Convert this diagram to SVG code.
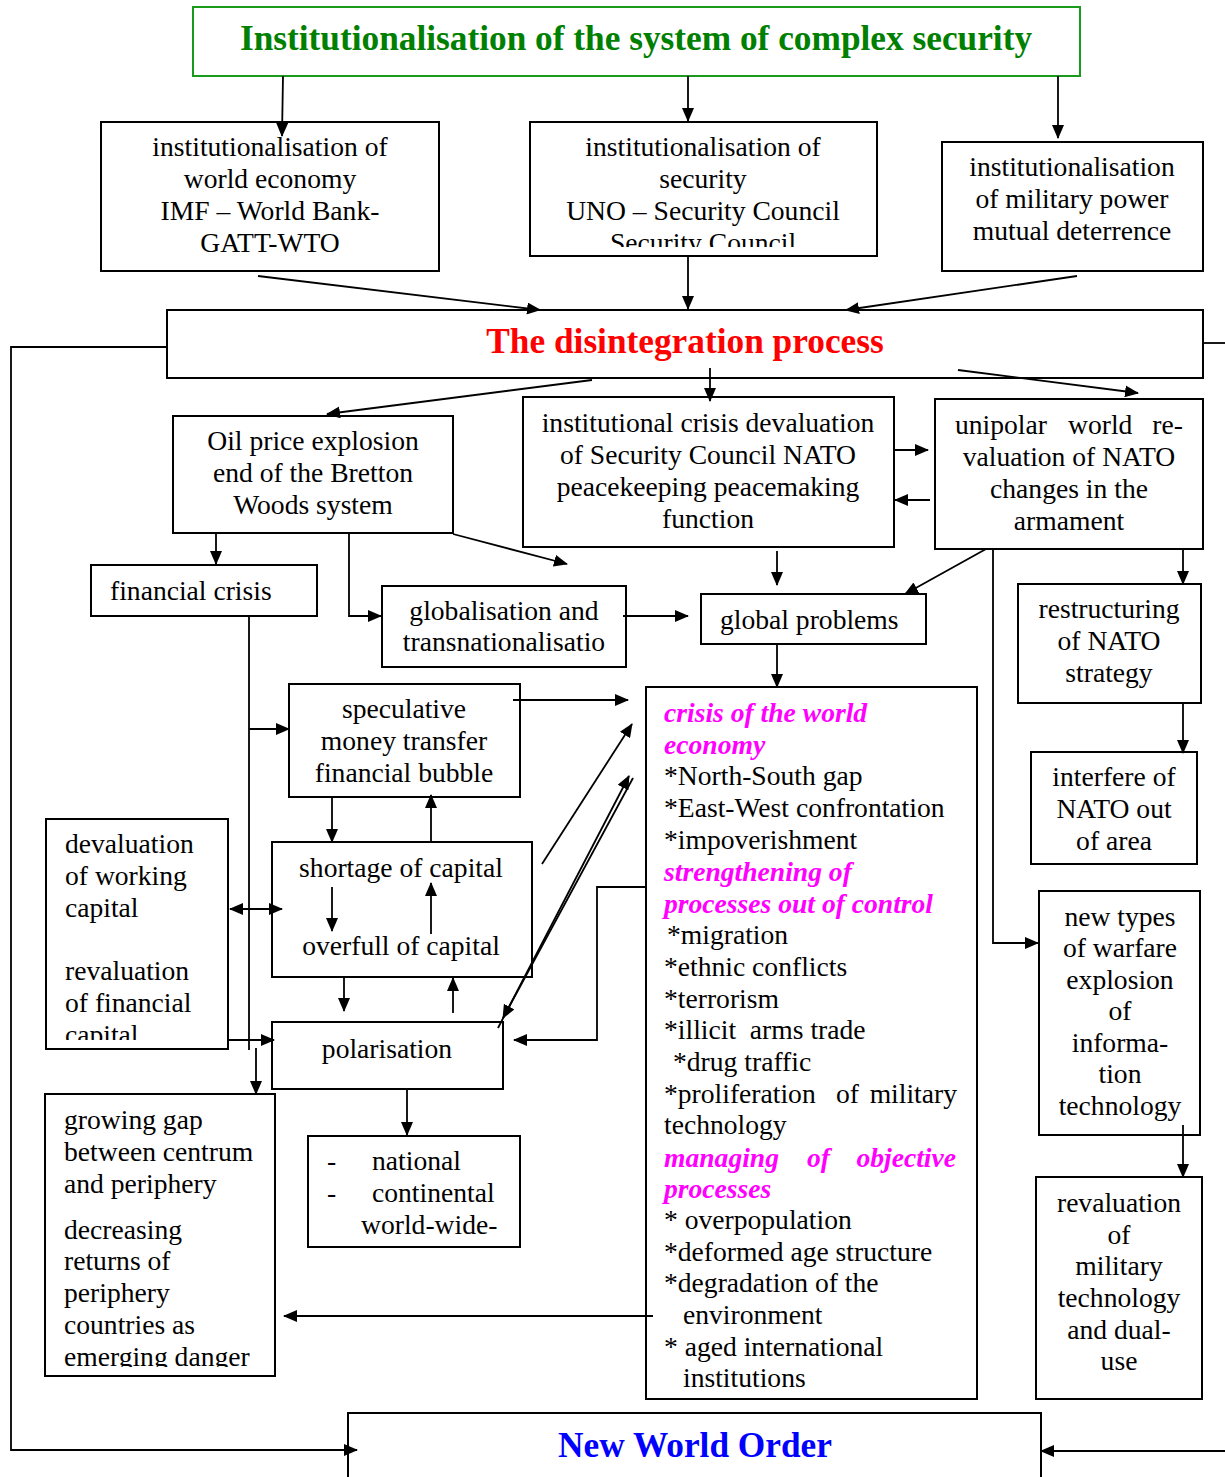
<svg xmlns="http://www.w3.org/2000/svg" width="1225" height="1477" viewBox="0 0 1225 1477">
<style>
.box{fill:#fff;stroke:#000;stroke-width:2}
.t{font-family:"Liberation Serif","Times New Roman",serif;font-size:27.6px;fill:#000}
.c{text-anchor:middle}
.e{text-anchor:end}
.mg{fill:#ff00ff;font-weight:bold;font-style:italic}
.big{font-family:"Liberation Serif","Times New Roman",serif;font-size:35.3px;font-weight:bold;text-anchor:middle}
#connectors path{stroke:#000;stroke-width:1.8;fill:none}
.a{marker-end:url(#ah)}
.d{marker-end:url(#ah);marker-start:url(#ahs)}
</style>
<defs>
<marker id="ah" markerWidth="14" markerHeight="12" refX="13" refY="6" orient="auto" markerUnits="userSpaceOnUse"><path d="M0,0 L14,6 L0,12 z" fill="#000"/></marker>
<marker id="ahs" markerWidth="14" markerHeight="12" refX="13" refY="6" orient="auto-start-reverse" markerUnits="userSpaceOnUse"><path d="M0,0 L14,6 L0,12 z" fill="#000"/></marker>
<clipPath id="clipB"><rect x="530" y="122" width="347" height="125"/></clipPath>
<clipPath id="clipDev"><rect x="46" y="819" width="182" height="221"/></clipPath>
<clipPath id="clipGap"><rect x="45" y="1094" width="230" height="273"/></clipPath>
</defs>
<rect width="1225" height="1477" fill="#fff"/>

<g id="title">
<rect x="193" y="7" width="887" height="69" fill="#fff" stroke="#1a9a1a" stroke-width="2"/>
<text class="big" x="636" y="50" fill="#008000">Institutionalisation of the system of complex security</text>
</g>

<g id="world-economy">
<rect class="box" x="101" y="122" width="338" height="149"/>
<text class="t c" x="270" y="156">institutionalisation of</text>
<text class="t c" x="270" y="188">world economy</text>
<text class="t c" x="270" y="220">IMF – World Bank-</text>
<text class="t c" x="270" y="252">GATT-WTO</text>
</g>

<g id="security">
<rect class="box" x="530" y="122" width="347" height="134"/>
<text class="t c" x="703" y="156">institutionalisation of</text>
<text class="t c" x="703" y="188">security</text>
<text class="t c" x="703" y="220">UNO – Security Council</text>
<text class="t c" x="703" y="252" clip-path="url(#clipB)">Security Council</text>
</g>

<g id="military-power">
<rect class="box" x="942" y="142" width="261" height="129"/>
<text class="t c" x="1072" y="176">institutionalisation</text>
<text class="t c" x="1072" y="208">of military power</text>
<text class="t c" x="1072" y="240">mutual deterrence</text>
</g>

<g id="disintegration">
<rect class="box" x="167" y="310" width="1036" height="68"/>
<text class="big" x="685" y="353" fill="#ff0000">The disintegration process</text>
</g>

<g id="oil-price">
<rect class="box" x="173" y="416" width="280" height="117"/>
<text class="t c" x="313" y="450">Oil price explosion</text>
<text class="t c" x="313" y="482">end of the Bretton</text>
<text class="t c" x="313" y="514">Woods system</text>
</g>

<g id="institutional-crisis">
<rect class="box" x="523" y="397" width="371" height="150"/>
<text class="t c" x="708" y="432">institutional crisis devaluation</text>
<text class="t c" x="708" y="464">of Security Council NATO</text>
<text class="t c" x="708" y="496">peacekeeping peacemaking</text>
<text class="t c" x="708" y="528">function</text>
</g>

<g id="unipolar">
<rect class="box" x="935" y="399" width="268" height="150"/>
<text class="t" x="955" y="434">unipolar</text>
<text class="t" x="1068" y="434">world</text>
<text class="t e" x="1183" y="434">re-</text>
<text class="t c" x="1069" y="466">valuation of NATO</text>
<text class="t c" x="1069" y="498">changes in the</text>
<text class="t c" x="1069" y="530">armament</text>
</g>

<g id="financial-crisis">
<rect class="box" x="91" y="565" width="226" height="51"/>
<text class="t" x="110" y="600">financial crisis</text>
</g>

<g id="globalisation">
<rect class="box" x="382" y="586" width="244" height="81"/>
<text class="t c" x="504" y="620">globalisation and</text>
<text class="t c" x="504" y="651">transnationalisatio</text>
</g>

<g id="global-problems">
<rect class="box" x="701" y="594" width="225" height="50"/>
<text class="t" x="720" y="629">global problems</text>
</g>

<g id="restructuring">
<rect class="box" x="1018" y="584" width="183" height="119"/>
<text class="t c" x="1109" y="618">restructuring</text>
<text class="t c" x="1109" y="650">of NATO</text>
<text class="t c" x="1109" y="682">strategy</text>
</g>

<g id="interfere">
<rect class="box" x="1031" y="752" width="166" height="112"/>
<text class="t c" x="1114" y="786">interfere of</text>
<text class="t c" x="1114" y="818">NATO out</text>
<text class="t c" x="1114" y="850">of area</text>
</g>

<g id="new-types">
<rect class="box" x="1039" y="891" width="161" height="244"/>
<text class="t c" x="1120" y="926">new types</text>
<text class="t c" x="1120" y="957">of warfare</text>
<text class="t c" x="1120" y="989">explosion</text>
<text class="t c" x="1120" y="1020">of</text>
<text class="t c" x="1120" y="1052">informa-</text>
<text class="t c" x="1120" y="1083">tion</text>
<text class="t c" x="1120" y="1115">technology</text>
</g>

<g id="revaluation-military">
<rect class="box" x="1036" y="1177" width="166" height="222"/>
<text class="t c" x="1119" y="1212">revaluation</text>
<text class="t c" x="1119" y="1244">of</text>
<text class="t c" x="1119" y="1275">military</text>
<text class="t c" x="1119" y="1307">technology</text>
<text class="t c" x="1119" y="1339">and dual-</text>
<text class="t c" x="1119" y="1370">use</text>
</g>

<g id="crisis-world-economy">
<rect class="box" x="646" y="687" width="331" height="712"/>
<text class="t mg" x="664" y="722">crisis of the world</text>
<text class="t mg" x="664" y="754">economy</text>
<text class="t" x="664" y="785">*North-South gap</text>
<text class="t" x="664" y="817">*East-West confrontation</text>
<text class="t" x="664" y="849">*impoverishment</text>
<text class="t mg" x="664" y="881">strengthening of</text>
<text class="t mg" x="664" y="913">processes out of control</text>
<text class="t" x="667" y="944">*migration</text>
<text class="t" x="664" y="976">*ethnic conflicts</text>
<text class="t" x="664" y="1008">*terrorism</text>
<text class="t" x="664" y="1039" xml:space="preserve">*illicit  arms trade</text>
<text class="t" x="673" y="1071">*drug traffic</text>
<text class="t" x="664" y="1103">*proliferation</text>
<text class="t" x="836" y="1103">of</text>
<text class="t e" x="957" y="1103">military</text>
<text class="t" x="664" y="1134">technology</text>
<text class="t mg" x="664" y="1167">managing</text>
<text class="t mg" x="807" y="1167">of</text>
<text class="t mg e" x="956" y="1167">objective</text>
<text class="t mg" x="664" y="1198">processes</text>
<text class="t" x="664" y="1229">* overpopulation</text>
<text class="t" x="664" y="1261">*deformed age structure</text>
<text class="t" x="664" y="1292">*degradation of the</text>
<text class="t" x="683" y="1324">environment</text>
<text class="t" x="664" y="1356">* aged international</text>
<text class="t" x="683" y="1387">institutions</text>
</g>

<g id="speculative">
<rect class="box" x="289" y="684" width="231" height="113"/>
<text class="t c" x="404" y="718">speculative</text>
<text class="t c" x="404" y="750">money transfer</text>
<text class="t c" x="404" y="782">financial bubble</text>
</g>

<g id="devaluation">
<rect class="box" x="46" y="819" width="182" height="230"/>
<text class="t" x="65" y="853">devaluation</text>
<text class="t" x="65" y="885">of working</text>
<text class="t" x="65" y="917">capital</text>
<text class="t" x="65" y="980">revaluation</text>
<text class="t" x="65" y="1012">of financial</text>
<text class="t" x="65" y="1044" clip-path="url(#clipDev)">capital</text>
</g>

<g id="shortage">
<rect class="box" x="272" y="842" width="260" height="135"/>
<text class="t c" x="401" y="877">shortage of capital</text>
<text class="t c" x="401" y="955">overfull of capital</text>
</g>

<g id="polarisation">
<rect class="box" x="272" y="1022" width="231" height="67"/>
<text class="t c" x="387" y="1058">polarisation</text>
</g>

<g id="levels">
<rect class="box" x="308" y="1136" width="212" height="111"/>
<text class="t" x="327" y="1170">-</text>
<text class="t" x="372" y="1170">national</text>
<text class="t" x="327" y="1202">-</text>
<text class="t" x="372" y="1202">continental</text>
<text class="t" x="361" y="1234">world-wide-</text>
</g>

<g id="growing-gap">
<rect class="box" x="45" y="1094" width="230" height="282"/>
<text class="t" x="64" y="1129">growing gap</text>
<text class="t" x="64" y="1161">between centrum</text>
<text class="t" x="64" y="1193">and periphery</text>
<text class="t" x="64" y="1239">decreasing</text>
<text class="t" x="64" y="1270">returns of</text>
<text class="t" x="64" y="1302">periphery</text>
<text class="t" x="64" y="1334">countries as</text>
<text class="t" x="64" y="1366" clip-path="url(#clipGap)">emerging danger</text>
</g>

<g id="new-world-order">
<path d="M348,1477 L348,1413 L1041,1413 L1041,1477" fill="#fff" stroke="#000" stroke-width="2"/>
<text class="big" x="695" y="1457" fill="#0000ff">New World Order</text>
</g>

<g id="connectors">
<path class="a" d="M283,76 L282,136"/>
<path class="a" d="M688,76 L688,121"/>
<path class="a" d="M1058,76 L1058,138"/>
<path class="a" d="M258,276 L540,310"/>
<path class="a" d="M688,256 L688,309"/>
<path class="a" d="M1077,276 L846,310"/>
<path d="M1203,343 L1225,343"/>
<path class="a" d="M167,347 L11,347 L11,1450 L357,1450"/>
<path class="a" d="M592,380 L327,414"/>
<path class="a" d="M710,368 L710,401"/>
<path class="a" d="M958,370 L1138,393"/>
<path class="a" d="M894,450 L928,450"/>
<path class="a" d="M930,500 L895,500"/>
<path class="a" d="M216,533 L216,564"/>
<path class="a" d="M349,533 L349,616 L381,616"/>
<path class="a" d="M453,534 L567,564"/>
<path class="a" d="M623,616 L688,616"/>
<path class="a" d="M777,551 L777,585"/>
<path class="a" d="M986,549 L905,594"/>
<path class="a" d="M777,645 L777,687"/>
<path class="a" d="M993,549 L993,943 L1038,943"/>
<path class="a" d="M1183,549 L1183,584"/>
<path class="a" d="M1183,703 L1183,753"/>
<path class="a" d="M1183,1125 L1183,1177"/>
<path class="a" d="M1225,1451 L1041,1451"/>
<path d="M249,616 L249,1050"/>
<path class="a" d="M249,729 L289,729"/>
<path class="a" d="M256,1048 L256,1094"/>
<path class="d" d="M230,909 L282,909"/>
<path class="a" d="M228,1040 L274,1040"/>
<path class="a" d="M332,797 L332,842"/>
<path class="a" d="M431,842 L431,795"/>
<path class="a" d="M332,887 L332,931"/>
<path class="a" d="M431,934 L431,883"/>
<path class="a" d="M344,977 L344,1011"/>
<path class="a" d="M453,1013 L453,978"/>
<path class="a" d="M407,1089 L407,1135"/>
<path class="a" d="M513,700 L628,700"/>
<path class="a" d="M542,864 L632,724"/>
<path class="a" d="M498,1028 L629,776"/>
<path class="a" d="M633,778 L503,1018"/>
<path class="a" d="M646,887 L597,887 L597,1040 L514,1040"/>
<path class="a" d="M653,1316 L284,1316"/>
</g>
</svg>
